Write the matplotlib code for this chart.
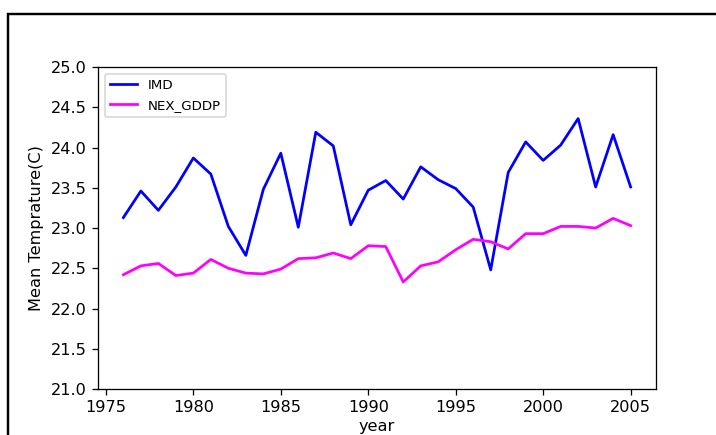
import matplotlib
matplotlib.use("Agg")
import matplotlib.pyplot as plt
from matplotlib.patches import Rectangle

years = list(range(1976, 2006))
imd = [23.13, 23.46, 23.22, 23.51, 23.87, 23.67, 23.02, 22.66, 23.48, 23.93,
       23.01, 24.19, 24.02, 23.04, 23.47, 23.59, 23.36, 23.76, 23.60, 23.49,
       23.26, 22.48, 23.69, 24.07, 23.84, 24.03, 24.36, 23.51, 24.16, 23.51]
nex_gddp = [22.42, 22.53, 22.56, 22.41, 22.44, 22.61, 22.50, 22.44, 22.43, 22.49,
            22.62, 22.63, 22.69, 22.62, 22.78, 22.77, 22.33, 22.53, 22.58, 22.73,
            22.86, 22.83, 22.74, 22.93, 22.93, 23.02, 23.02, 23.00, 23.12, 23.03]

fig = plt.figure(figsize=(716 / 116, 435 / 116), dpi=116)
ax = fig.add_axes([0.1369, 0.1057, 0.7793, 0.7402])

ax.plot(years, imd, color="blue", linewidth=1.7, label="IMD")
ax.plot(years, nex_gddp, color="magenta", linewidth=1.7, label="NEX_GDDP")
ax.set_ylim(21.0, 25.0)
ax.set_xlabel("year", labelpad=2)
ax.set_ylabel("Mean Temprature(C)")
ax.legend(loc="upper left", fontsize="small")

# schwarzer Rahmen um die Figur (oben/links sichtbar)
fig.patches.append(Rectangle((8 / 716, -0.2), 1.2, 1.2 - 14 / 435,
                             transform=fig.transFigure, fill=False,
                             edgecolor="black", linewidth=1.5))

fig.savefig("out.png", dpi=116)
